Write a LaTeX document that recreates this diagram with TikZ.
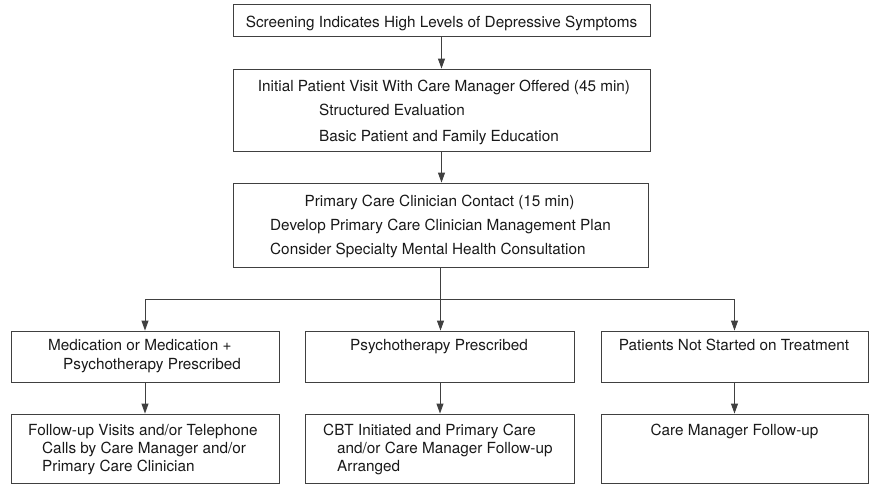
\documentclass[tikz,border=0pt]{standalone}
\usepackage{fontspec}
\setmainfont{TeX Gyre Heros}
\usetikzlibrary{arrows.meta}
\begin{document}
\begin{tikzpicture}[x=1pt,y=-1pt,
  box/.style={draw=black!75, line width=0.9pt, rectangle, inner sep=0pt},
  txt/.style={inner sep=0pt, text=black!90, font=\fontsize{15.3}{18}\selectfont},
  tl/.style={txt, anchor=base west},
  tc/.style={txt, anchor=base},
  conn/.style={draw=black!75, line width=0.9pt},
  arr/.style={conn, -{Triangle[width=7pt,length=10pt]}}]
\useasboundingbox (0,0) rectangle (870,485);
% boxes
\node[box, minimum width=417pt, minimum height=32pt] (b1) at (441.5,20) {};
\node[box, minimum width=417pt, minimum height=82pt] (b2) at (441.5,110) {};
\node[box, minimum width=415pt, minimum height=84pt] (b3) at (440.5,225) {};
\node[box, minimum width=268pt, minimum height=51pt] (m1) at (145,356.5) {};
\node[box, minimum width=269pt, minimum height=51pt] (m2) at (440,356.5) {};
\node[box, minimum width=267pt, minimum height=51pt] (m3) at (734.5,356.5) {};
\node[box, minimum width=268pt, minimum height=69pt] (f1) at (145,448.5) {};
\node[box, minimum width=269pt, minimum height=69pt] (f2) at (440,448.5) {};
\node[box, minimum width=267pt, minimum height=69pt] (f3) at (734.5,448.5) {};
% texts
\node[tc] (t1) at (441.5,27) {Screening Indicates High Levels of Depressive Symptoms};
\node[tc] (t2a) at (444,91.5) {Initial Patient Visit With Care Manager Offered (45 min)};
\node[tl] (t2b) at (319,115.5) {Structured Evaluation};
\node[tl] (t2c) at (319,141.5) {Basic Patient and Family Education};
\node[tc] (t3a) at (439.5,206.5) {Primary Care Clinician Contact (15 min)};
\node[tl] (t3b) at (270,230.5) {Develop Primary Care Clinician Management Plan};
\node[tl] (t3c) at (270,254) {Consider Specialty Mental Health Consultation};
\node[tl] (m1a) at (48,350.7) {Medication or Medication +};
\node[tl] (m1b) at (63,369.3) {Psychotherapy Prescribed};
\node[tc] (m2a) at (439,350.7) {Psychotherapy Prescribed};
\node[tc] (m3a) at (734,350.7) {Patients Not Started on Treatment};
\node[tl] (f1a) at (28,435) {Follow-up Visits and/or Telephone};
\node[tl] (f1b) at (42,453.3) {Calls by Care Manager and/or};
\node[tl] (f1c) at (42,471.7) {Primary Care Clinician};
\node[tl] (f2a) at (323,435) {CBT Initiated and Primary Care};
\node[tl] (f2b) at (337,453.3) {and/or Care Manager Follow-up};
\node[tl] (f2c) at (337,471.7) {Arranged};
\node[tc] (f3a) at (734.5,435) {Care Manager Follow-up};
% connectors
\draw[arr] (b1.south) -- (b1.south |- b2.north);
\draw[arr] (b2.south) -- (b2.south |- b3.north);
\coordinate (j) at (440.5,299);
\draw[conn] (b3.south) -- (j);
\draw[arr] (j) -| (m1.north);
\draw[arr] (j) -| (m3.north);
\draw[arr] (j) -- (j |- m2.north);
\draw[arr] (m1.south) -- (f1.north);
\draw[arr] (m2.south) -- (f2.north);
\draw[arr] (m3.south) -- (f3.north);
\end{tikzpicture}
\end{document}
